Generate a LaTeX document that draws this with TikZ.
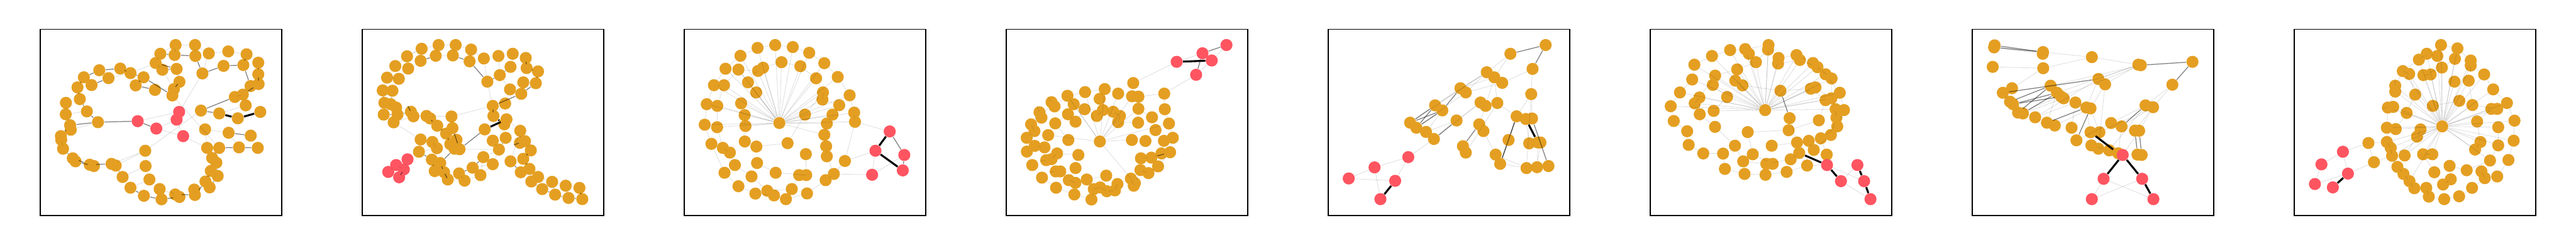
\documentclass[tikz,border=0pt]{standalone}
\usepackage{xcolor}
\definecolor{nodeOrange}{HTML}{E49F22}
\definecolor{nodeRed}{HTML}{FF5561}
\tikzset{
  gnode/.style={circle,fill=nodeOrange,minimum size=2.4mm,inner sep=0pt},
  rnode/.style={circle,fill=nodeRed,minimum size=2.4mm,inner sep=0pt},
  edgeL/.style={draw=black,draw opacity=0.13,line width=0.3pt},
  edgeM/.style={draw=black,draw opacity=0.5,line width=0.45pt},
  edgeB/.style={draw=black,line width=1.1pt},
  panel/.style={x=0.033333mm,y=-0.033333mm},
  frame/.style={draw=black,line width=0.45pt}
}

\begin{document}
\begin{tikzpicture}
\useasboundingbox (0,0) rectangle (51.2,4.8);
% panel 1
\begin{scope}[shift={(6mm,44mm)},panel]
\draw[frame] (60,55) rectangle (1500,1162);
\foreach \x/\y [count=\i] in {867/148,983/148,776/200,861/207,985/213,1065/198,1181/186,1290/203,748/255,788/295,
 873/290,1027/317,1153/272,1271/267,1360/253,1360/322,1362/380,1314/392,1268/443,1220/457,
 1285/507,890/367,857/410,848/448,412/298,537/288,598/315,467/345,676/340,629/388,
 744/415,320/340,366/386,282/400,296/470,213/492,338/543,212/560,404/607,238/625,
 183/690,185/712,196/765,254/822,270/840,355/860,380/868,485/855,510/865,551/933,
 598/997,678/1045,686/777,688/868,711/948,772/1005,783/1066,865/1037,890/1052,982/1040,
 978/1008,1045/960,1070/995,1077/897,1118/927,1085/820,1110/848,1055/760,1127/760,1043/650,
 1183/670,1315/687,1245/757,1357/760,1018/538,1127/555,1238/584,1372/546,242/652}
  \node[gnode] (a\i) at (\x,\y) {};
\foreach \x/\y [count=\i] in {641/601,752/645,873/592,888/546,912/690}
  \node[rnode] (ar\i) at (\x,\y) {};
\foreach \u/\v in {ar1/ar4,ar2/ar3,ar2/ar5,ar4/a12,ar5/a68,ar3/ar5,a53/a75,a24/a69,a48/a53,a49/a53,a50/a54,
 a51/a55,a55/a56,a56/a58,a54/a55,a70/a71,a70/a68,a71/a73,a21/a76,a27/a9,a1/a2,a1/a3,a2/a6,a6/a7,a7/a8,
 a8/a15,a6/a12,a31/a23,a10/a23,a28/a27,a33/a34,a36/a35,a38/a37,a38/a40,a79/a39,a42/a43,a53/a54,a1/a4,
 a2/a5,a9/a10,a18/a19,a19/a20,a20/a21,a58/a59,a61/a63,a9/a3,a36/a38}
  \draw[edgeL] (\u) -- (\v);
\foreach \u/\v in {a39/ar1,ar1/ar2,a40/a39,a37/a39,a35/a37,a34/a35,a32/a34,a32/a25,a25/a26,a26/a27,a27/a29,
 a28/a33,a29/a24,a30/a31,a10/a11,a3/a4,a4/a5,a5/a12,a12/a13,a13/a14,a14/a18,a15/a16,a16/a17,a17/a19,
 a75/a20,a75/a76,a11/a22,a22/a23,a71/a72,a73/a74,a69/a73,a69/a66,a66/a64,a64/a62,a62/a60,a60/a58,
 a59/a57,a57/a52,a52/a51,a50/a49,a46/a48,a44/a46,a43/a44,a41/a43,a41/a40,a45/a47,a8/a14,a65/a63,
 a67/a65,a29/a30,a9/a11}
  \draw[edgeM] (\u) -- (\v);
\foreach \u/\v in {a76/a77,a77/a78}
  \draw[edgeB] (\u) -- (\v);
\end{scope}
% panel 2
\begin{scope}[shift={(70mm,44mm)},panel]
\draw[frame] (60,55) rectangle (1500,1162);
\foreach \x/\y [count=\i] in {515/148,617/148,414/170,709/175,327/215,498/212,600/210,408/242,257/273,700/245,
 785/228,872/213,957/200,1035/225,1040/285,1108/305,334/288,944/278,880/327,208/342,
 278/349,806/366,1020/370,1095/375,182/418,240/420,941/412,1008/438,192/492,230/500,
 262/520,912/496,838/510,188/562,270/562,350/545,365/572,443/570,465/585,592/573,
 247/608,842/570,920/590,907/620,507/628,598/642,790/650,1002/658,560/675,408/710,
 478/725,622/712,838/717,915/700,1030/720,1000/730,585/738,505/762,610/765,640/768,
 875/770,1065/775,398/783,782/815,944/840,1020/825,475/830,525/850,838/857,718/878,
 1057/885,1005/905,492/898,548/905,637/912,765/922,1108/933,1068/960,570/948,670/955,
 1192/962,1273/985,1355/998,1133/1005,1210/1038,1290/1058,1372/1065}
  \node[gnode] (b\i) at (\x,\y) {};
\foreach \x/\y [count=\i] in {330/828,262/862,308/888,215/903,280/935}
  \node[rnode] (br\i) at (\x,\y) {};
\foreach \u/\v in {b3/b1,b1/b2,b2/b4,b4/b11,b11/b12,b12/b13,b13/b14,b5/b3,b9/b5,b20/b9,b25/b20,b6/b8,b8/b17,
 b17/b21,b21/b26,b6/b7,b11/b22,b12/b19,b19/b27,b27/b32,b22/b33,b33/b40,b41/b50,b50/b63,b51/b58,
 b58/b63,b40/b46,b53/b54,b47/b53,b55/b62,b61/b64,b64/b76,b76/b80,b80/b79,b79/b74,b69/b76,b65/b48,
 b38/b40,b41/b37,b60/b61,b65/b66,b77/b81,b81/b82,b82/b83,b84/b77,b3/b5,b18/b13,b27/b23,b32/b42,
 b43/b48,b53/b61,b69/b61,b70/b69,b75/b80,br2/br4,br2/br3,br1/br3,b1/b6,b2/b7,b4/b10,b9/b17,b20/b21}
  \draw[edgeL] (\u) -- (\v);
\foreach \u/\v in {b10/b22,b22/b19,b19/b18,b14/b15,b15/b16,b16/b24,b24/b28,b28/b33,b33/b42,b47/b60,
 b60/b46,b46/b52,b49/b57,b45/b49,b38/b45,b37/b38,b36/b37,b35/b36,b31/b29,b34/b35,b29/b25,b59/b68,
 b63/b67,b67/b73,b68/b74,b75/b70,b70/b64,b54/b61,b56/b55,b48/b56,b62/b66,b66/b71,b71/b78,b72/b65,
 b84/b85,b85/b86,b86/b87,b82/b86,b83/b87,b81/b85,b30/b34,b26/b30,br1/br2,br3/br5,b23/b24,b78/b84,
 b74/b79,b8/b6,b7/b10}
  \draw[edgeM] (\u) -- (\v);
\foreach \u/\v in {b47/b43,b42/b44}
  \draw[edgeB] (\u) -- (\v);
\end{scope}
% panel 3
\begin{scope}[shift={(134mm,44mm)},panel]
\draw[frame] (60,55) rectangle (1500,1162);
\foreach \x/\y [count=\i] in {602/148,707/160,497/165,805/194,395/212,640/250,895/256,752/274,530/283,500/302,
 306/289,383/294,975/338,846/346,440/370,237/387,297/387,489/430,887/430,884/472,
 1046/447,194/500,257/510,399/495,984/506,780/562,944/562,420/565,1073/550,1078/605,
 910/615,182/622,256/637,425/630,627/612,895/682,222/736,290/760,421/722,676/732,
 490/752,906/750,332/788,785/797,910/810,1018/838,362/862,494/850,300/908,605/908,
 745/922,787/922,952/915,903/952,461/930,383/988,701/1005,484/1032,555/1015,595/1043,
 666/1065,792/1031}
  \node[gnode] (c\i) at (\x,\y) {};
\foreach \x/\y [count=\i] in {1285/662,1200/777,1372/802,1363/894,1180/920}
  \node[rnode] (cr\i) at (\x,\y) {};
\foreach \i in {1,...,34,36,...,62}
  \draw[edgeL] (c35) -- (c\i);
\foreach \u/\v in {c3/c1,c1/c2,c2/c4,c4/c7,c7/c13,c13/c21,c21/c29,c29/c30,c5/c3,c11/c5,c16/c11,c22/c16,
 c32/c22,c37/c32,c49/c37,c56/c49,c58/c56,c60/c58,c61/c60,c62/c61,c54/c62,c53/c54,c46/c53,c12/c10,
 c10/c9,c9/c6,c6/c8,c8/c14,c14/c19,c19/c20,c20/c25,c27/c31,c31/c36,c36/c42,c42/c45,c17/c12,c23/c17,
 c33/c23,c38/c33,c43/c38,c47/c43,c55/c47,c59/c55,c57/c59,c51/c57,c52/c51,c44/c52,c45/c53,c25/c27,
 c30/c46,c18/c15,c15/c12,c24/c28,c28/c34,c34/c39,c39/c41,c41/c40,c40/c26,c26/c19,c48/c50,c50/c52,
 c22/c23,c32/c33,c16/c17,cr2/cr5,cr5/cr3,cr1/c30,cr2/c46,cr5/c53}
  \draw[edgeL] (\u) -- (\v);
\foreach \u/\v in {cr1/cr3,cr3/cr4}
  \draw[edgeM] (\u) -- (\v);
\foreach \u/\v in {cr1/cr2,cr2/cr4}
  \draw[edgeB] (\u) -- (\v);
\end{scope}
% panel 4
\begin{scope}[shift={(198mm,44mm)},panel]
\draw[frame] (60,55) rectangle (1500,1162);
\foreach \x/\y [count=\i] in {817/374,647/410,425/450,530/428,727/437,1002/437,810/453,848/455,330/488,348/513,
 617/468,462/500,527/530,636/535,697/545,1005/530,848/527,258/548,270/580,428/560,
 600/570,738/570,727/607,473/604,846/610,929/578,1030/615,208/620,352/614,228/660,
 950/654,310/684,182/700,430/713,618/722,809/713,890/719,1000/718,1053/700,230/748,
 288/757,183/782,363/793,490/802,985/793,1037/786,298/833,330/827,863/822,925/818,
 215/862,473/880,965/870,860/892,908/910,355/900,382/900,273/937,656/925,433/952,
 540/948,803/943,472/968,723/975,827/970,820/985,582/1005,620/995,357/997,660/1018,
 708/1013,466/1037,568/1067}
  \node[gnode] (d\i) at (\x,\y) {};
\foreach \x/\y [count=\i] in {1076/248,1230/197,1285/240,1373/148,1192/325}
  \node[rnode] (dr\i) at (\x,\y) {};
\foreach \i in {2,...,5,7,...,34,36,...,73}
  \draw[edgeL] (d35) -- (d\i);
\foreach \u/\v in {d42/d33,d33/d30,d30/d28,d28/d18,d18/d19,d19/d9,d9/d10,d10/d3,d3/d12,d3/d4,d4/d2,d2/d11,
 d2/d5,d5/d7,d7/d8,d8/d6,d1/d7,d6/d16,d16/d27,d27/d39,d39/d46,d46/d53,d53/d55,d55/d54,d54/d66,d66/d62,
 d62/d64,d64/d71,d71/d70,d70/d68,d68/d67,d67/d73,d73/d72,d72/d69,d69/d58,d58/d51,d51/d42,d40/d41,
 d41/d32,d32/d29,d29/d20,d20/d24,d24/d13,d13/d14,d14/d15,d15/d22,d22/d23,d23/d25,d25/d17,d17/d26,
 d26/d31,d31/d38,d38/d45,d45/d50,d50/d49,d37/d36,d47/d48,d48/d43,d43/d44,d44/d52,d52/d60,d60/d63,
 d61/d59,d56/d57,d21/d14,d34/d29,d8/d17,dr3/dr4,dr3/dr5,dr1/dr2,d1/dr1,d6/dr5}
  \draw[edgeL] (\u) -- (\v);
\foreach \u/\v in {dr2/dr4,dr2/dr5,d50/d46}
  \draw[edgeM] (\u) -- (\v);
\foreach \u/\v in {dr1/dr3}
  \draw[edgeB] (\u) -- (\v);
\end{scope}
% panel 5
\begin{scope}[shift={(262mm,44mm)},panel]
\draw[frame] (60,55) rectangle (1500,1162);
\foreach \x/\y [count=\i] in {1356/148,1146/200,1278/290,1005/310,1050/340,1097/373,848/405,880/430,1270/440,697/507,
 740/537,968/490,998/510,1068/493,1183/572,1238/588,1275/585,548/610,585/640,825/597,
 960/620,985/660,643/665,690/707,1135/713,1258/733,1310/728,1325/728,863/750,880/788,
 1058/800,1085/855,1242/880,1305/875,1373/868}
  \node[gnode] (e\i) at (\x,\y) {};
\foreach \x/\y [count=\i] in {537/815,336/876,182/942,459/956,371/1065}
  \node[rnode] (er\i) at (\x,\y) {};
\foreach \u/\v in {e10/e7,e10/e4,e18/e4,e19/e8,e7/e4,e7/e5,e8/e6,e8/e4,e2/e4,e2/e5,e3/e6,e3/e9,e9/e15,
 e9/e17,e9/e33,e14/e15,e14/e5,e13/e5,e14/e30,e22/e31,e32/e33,e27/e34,e28/e34,e23/e20,e23/e11,e13/e21,
 e20/e12,e24/e12,er1/e24,er1/er2,er2/er3,er3/er4,er1/er4,er2/er5,e31/e33,e16/e26}
  \draw[edgeL] (\u) -- (\v);
\foreach \u/\v in {e1/e2,e1/e3,e18/e10,e19/e11,e18/e11,e19/e10,e24/e20,e21/e29,e15/e32,e25/e15,e25/e32,
 e17/e35,e11/e7}
  \draw[edgeM] (\u) -- (\v);
\foreach \u/\v in {e16/e27,er4/er5}
  \draw[edgeB] (\u) -- (\v);
\end{scope}
% panel 6
\begin{scope}[shift={(326mm,44mm)},panel]
\draw[frame] (60,55) rectangle (1500,1162);
\foreach \x/\y [count=\i] in {765/148,762/175,626/172,648/200,536/178,428/213,825/225,822/258,932/208,952/237,
 690/250,323/265,1030/255,1057/280,1105/322,1141/347,578/293,447/330,310/353,433/385,
 567/360,610/388,1017/408,1045/400,237/430,836/420,518/457,1190/432,353/460,325/495,
 1105/476,1140/465,182/512,438/540,745/535,1165/530,1215/535,355/560,891/583,1170/580,
 1065/596,200/600,446/635,1175/632,885/655,280/661,641/666,1137/683,1077/703,935/728,
 1005/718,289/742,565/747,784/747,1035/772,948/790,376/793,494/794,671/798,1112/800,
 897/828,614/840,752/855,790/855,995/865,505/885,622/915,747/920,873/903}
  \node[gnode] (f\i) at (\x,\y) {};
\foreach \x/\y [count=\i] in {1114/862,1295/862,1197/958,1335/958,1373/1065}
  \node[rnode] (fr\i) at (\x,\y) {};
\foreach \i in {1,...,34,36,...,69}
  \draw[edgeL] (f35) -- (f\i);
\foreach \u/\v in {f5/f6,f6/f12,f12/f19,f19/f25,f25/f33,f33/f42,f42/f46,f46/f52,f52/f57,f57/f58,f58/f66,
 f66/f67,f67/f68,f68/f69,f69/f65,f3/f5,f1/f3,f1/f7,f7/f9,f9/f13,f13/f15,f15/f28,f28/f37,f37/f44,f44/f49,
 f49/f60,f2/f11,f11/f17,f17/f18,f18/f29,f29/f38,f38/f43,f43/f53,f53/f62,f62/f63,f63/f61,f61/f56,f8/f10,
 f10/f14,f14/f16,f16/f32,f32/f36,f36/f40,f40/f48,f48/f55,f55/f51,f20/f27,f27/f34,f21/f22,f22/f26,
 f26/f23,f23/f31,f31/f41,f41/f45,f45/f47,f47/f59,f59/f64,f54/f50,f50/f39,f4/f11,f24/f32,f30/f29,
 f60/fr1,f65/fr1,fr1/fr4,fr2/fr3,fr3/fr5}
  \draw[edgeL] (\u) -- (\v);
\foreach \u/\v in {f26/f39}
  \draw[edgeM] (\u) -- (\v);
\foreach \u/\v in {f56/fr1,fr1/fr3,fr2/fr4,fr4/fr5}
  \draw[edgeB] (\u) -- (\v);
\end{scope}
% panel 7
\begin{scope}[shift={(390mm,44mm)},panel]
\draw[frame] (60,55) rectangle (1500,1162);
\foreach \x/\y [count=\i] in {193/150,190/162,482/190,480/200,773/220,1050/265,1065/268,1373/248,182/278,483/286,
 812/350,852/382,1253/384,297/405,527/390,242/432,565/432,590/455,605/465,285/485,
 303/500,675/490,1093/507,1138/518,740/520,765/525,333/550,362/555,435/578,505/610,
 552/627,652/640,888/612,950/632,1030/657,1055/658,765/667,818/667,681/715,770/745,
 812/765,877/775,930/792,1045/800,1070/802}
  \node[gnode] (g\i) at (\x,\y) {};
\foreach \x/\y [count=\i] in {957/802,843/944,1073/944,773/1065,1140/1065}
  \node[rnode] (gr\i) at (\x,\y) {};
\foreach \u/\v in {g2/g4,g3/g5,g5/g6,g9/g10,g10/g5,g10/g14,g27/g18,g28/g19,g29/g22,g31/g26,g6/g11,g6/g12,
 g6/g17,g7/g15,g11/g25,g13/g23,g13/g24,g23/g33,g24/g35,g24/g38,g33/g39,g34/g43,g25/g37,g26/g38,g22/g32,
 g32/g39,g12/g41,g7/g18,g14/g20,g16/g20,g29/g11,g30/g17,g36/gr1,g24/g36,g24/g34,g23/g42,g12/g26,
 g22/g25,g37/g40,g40/g42,gr2/gr4,gr2/gr5,gr3/gr4}
  \draw[edgeL] (\u) -- (\v);
\foreach \u/\v in {g1/g3,g7/g8,g8/g13,g16/g11,g20/g15,g21/g17,g21/g18,g30/g25,g35/g44,g36/g45,g23/g34,
 g27/g15,g28/g17,g2/g3,g39/g26}
  \draw[edgeM] (\u) -- (\v);
\foreach \u/\v in {g37/g43,gr1/gr2,gr1/gr3,gr3/gr5}
  \draw[edgeB] (\u) -- (\v);
\end{scope}
% panel 8
\begin{scope}[shift={(454mm,44mm)},panel]
\draw[frame] (60,55) rectangle (1500,1162);
\foreach \x/\y [count=\i] in {935/148,1033/168,850/200,913/213,1018/230,803/235,1112/240,1112/270,940/282,707/303,
 745/320,830/327,873/323,1192/323,1015/366,1100/360,662/390,662/425,781/443,1246/412,
 1044/480,886/510,1122/505,1328/493,1235/528,1270/528,618/520,650/516,730/552,1150/603,
 1373/598,612/640,665/648,942/632,813/650,1276/637,792/693,502/731,612/725,635/760,
 1170/725,1368/717,1138/770,1276/745,643/807,718/805,828/798,883/798,535/845,1227/835,
 1337/832,675/873,986/867,711/915,895/905,1088/893,1176/900,1196/940,1270/930,747/958,
 993/947,947/978,776/1000,847/998,1120/998,862/1050,954/1065,1043/1048}
  \node[gnode] (h\i) at (\x,\y) {};
\foreach \x/\y [count=\i] in {350/783,222/858,380/913,183/975,290/995}
  \node[rnode] (hr\i) at (\x,\y) {};
\foreach \i in {1,...,33,35,36,37,39,40,...,48,50,...,68}
  \draw[edgeL] (h34) -- (h\i);
\foreach \u/\v in {h1/h2,h1/h4,h3/h4,h3/h6,h6/h10,h10/h11,h10/h17,h17/h18,h18/h27,h27/h28,h27/h32,h32/h39,
 h39/h40,h40/h45,h45/h52,h52/h54,h54/h60,h60/h63,h63/h64,h64/h66,h66/h67,h67/h68,h68/h65,h65/h58,
 h58/h57,h57/h59,h59/h51,h51/h42,h42/h31,h31/h24,h24/h20,h20/h14,h14/h8,h8/h7,h7/h2,h5/h9,h9/h12,
 h12/h13,h11/h19,h19/h29,h29/h33,h15/h16,h16/h23,h21/h22,h23/h26,h25/h30,h30/h41,h41/h43,h36/h44,
 h44/h50,h50/h56,h56/h53,h53/h61,h61/h62,h62/h55,h55/h47,h47/h48,h37/h35,h46/h37,h38/h39,h49/h45,
 hr1/h38,hr3/h49,hr1/hr2,hr1/hr3,hr2/hr4,hr4/hr3,h38/h49}
  \draw[edgeL] (\u) -- (\v);
\foreach \u/\v in {hr3/hr5}
  \draw[edgeB] (\u) -- (\v);
\end{scope}
\end{tikzpicture}
\end{document}
